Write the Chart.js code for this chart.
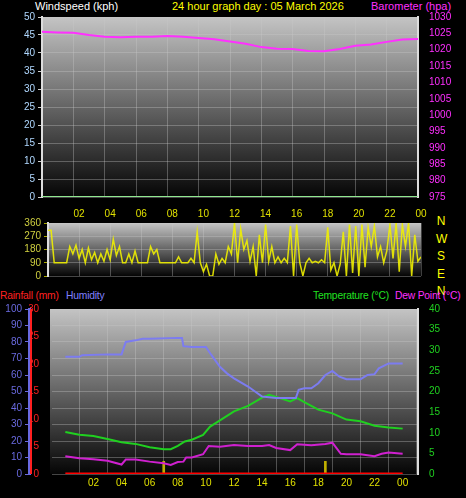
<!DOCTYPE html>
<html><head><meta charset="utf-8">
<script src="https://cdn.jsdelivr.net/npm/chart.js@4"></script>
<style>
body{margin:0;background:#000;width:466px;height:498px;overflow:hidden;position:relative;font-family:"Liberation Sans",Arial,sans-serif}
canvas{position:absolute}
.t{position:absolute;font-size:11px;white-space:nowrap;line-height:12px}
.s{font-size:10.3px;letter-spacing:-0.2px}
</style></head><body>
<div class="t" style="left:35px;top:0px;color:#fff">Windspeed (kph)</div>
<div class="t" style="left:172px;top:0px;color:#ffff00">24 hour graph day : 05 March 2026</div>
<div class="t" style="left:371px;top:0px;color:#ff30ff">Barometer (hpa)</div>
<div class="t" style="left:436px;top:213px;color:#ffff00;font-size:12px;line-height:17.5px;text-align:center;width:10px">N<br>W<br>S<br>E<br>N</div>
<div class="t s" style="left:0px;top:290px;color:#ff2020">Rainfall (mm)</div>
<div class="t s" style="left:66px;top:290px;color:#8080ff">Humidity</div>
<div class="t s" style="left:313px;top:290px;color:#20e020">Temperature (°C)</div>
<div class="t s" style="left:395px;top:290px;color:#ff30ff">Dew Point (°C)</div>
<canvas id="c1" style="left:0;top:8px" width="466" height="200"></canvas>
<canvas id="c2" style="left:0;top:205px" width="466" height="80"></canvas>
<canvas id="c3" style="left:0;top:295px" width="466" height="203"></canvas>
<script>
const baroHours=[0,1,2,3,4,5,6,7,8,9,10,11,12,13,14,15,16,17,18,19,20,21,22,23,24];
const baroValues=[1025.5,1025.3,1025.2,1024.5,1024,1023.8,1024,1024,1024.2,1024,1023.6,1023.2,1022.5,1021.8,1020.8,1020.3,1020.2,1019.6,1019.5,1020.2,1021.2,1021.6,1022.4,1023.1,1023.3];
const windHours=[0,24];
const windValues=[0,0];
const dirStep=0.2;
const dirValues=[310,310,90,90,90,90,90,200,150,210,120,180,90,190,110,160,90,150,100,180,110,250,140,200,90,90,150,90,170,90,90,90,90,200,150,180,90,90,90,90,90,90,130,90,90,90,120,90,300,90,30,80,0,0,150,80,120,90,200,150,360,90,320,180,240,100,200,0,280,90,350,100,200,90,130,90,120,90,340,0,350,90,0,90,120,90,100,90,110,90,330,40,90,0,80,300,0,350,20,340,0,350,60,330,200,340,130,200,90,170,350,120,360,30,350,200,360,0,280,100,130];
const tempHours=[0,1,2,3,4,5,6,7,7.5,8,8.5,9,9.8,10.3,11,12,13,14,14.5,15,16,16.5,17,18,19,20,21,22,23,24];
const tempValues=[10.2,9.5,9.2,8.5,7.7,7.3,6.5,6,6,6.8,7.9,8.3,9.5,11.5,13,15.2,16.5,18.5,19.2,18.7,17.6,18.4,17.4,15.6,14.7,13.2,12.8,11.7,11.3,11];
const dewHours=[0,1,2,3,4,4.3,5,6,7,7.5,8,8.4,8.6,9,9.8,10.2,11,12,13,14,14.5,15,16,16.5,17.5,18.5,19,19.6,20,21,22,22.5,23,24];
const dewValues=[4.3,3.8,3.6,3.2,2.3,3.5,3.5,3,2.6,2.2,2.9,3,4,4,4.8,6.8,6.6,7,6.8,6.8,7,6.3,5.8,7.2,7,7.3,7.6,4.9,4.8,4.8,4.3,4.9,5.2,4.9];
const humHours=[0,1,1.2,3,4,4.3,5,5.5,6,8,8.3,8.4,9,10,10.4,11,11.5,12,13,14,14.5,15,16,16.4,16.6,17,17.5,18,18.5,19,19.5,20,21,21.5,22,22.3,23,24];
const humValues=[71,71,72,72.5,72.5,80,81,82,82,82.5,82.5,77.5,77,77,72,65,61,58,53,47,46.5,46,46,46,51,52,52,55,60,62.5,59,57.5,57.5,60,60.5,64,67,67];
const rainHours=[0,24];
const rainValues=[0,0];
const markHours=[7,18.5];
const markValues=[2.3,2.3];
const hourTicks=[2,4,6,8,10,12,14,16,18,20,22,24];
const dirTicks=[0,90,180,270,360];

const pts=(h,v)=>h.map((x,i)=>({x,y:v[i]}));
const grad={id:'grad',beforeDraw(c){const a=c.chartArea,g=c.ctx.createLinearGradient(0,a.top,0,a.bottom);g.addColorStop(0,'#c4c4c4');g.addColorStop(1,'#050505');c.ctx.save();c.ctx.fillStyle=g;c.ctx.fillRect(a.left,a.top,a.right-a.left,a.bottom-a.top);c.ctx.restore();}};
const redLine={id:'redLine',afterDraw(c){const s=c.scales.yr;if(!s)return;const x=s.left+2;c.ctx.save();c.ctx.strokeStyle='#ff2020';c.ctx.lineWidth=2;c.ctx.beginPath();c.ctx.moveTo(x,s.top);c.ctx.lineTo(x,s.bottom);c.ctx.stroke();c.ctx.restore();}};
const fit=w=>function(s){s.width=w;};
const fitH=h=>function(s){s.height=h;};
const gridC='rgba(200,200,200,0.35)';
const f={size:10,family:'Liberation Sans'};
const plain=v=>String(v);
const xAxis=(display,pos)=>({type:'linear',min:0,max:24,position:pos||'bottom',display,
  afterBuildTicks:s=>{s.ticks=hourTicks.map(v=>({value:v}));},
  ticks:{color:'#e0e000',font:f,autoSkip:false,maxRotation:0,callback:v=>String(v%24).padStart(2,'0')},
  grid:{color:gridC,borderDash:[2,2],drawTicks:false},border:{display:false}});
Chart.defaults.animation=false;
Chart.defaults.plugins.legend.display=false;
Chart.defaults.plugins.tooltip.enabled=false;
Chart.defaults.elements.point.radius=0;
Chart.defaults.responsive=false;

new Chart(c1,{type:'line',plugins:[grad],data:{datasets:[
 {data:pts(baroHours,baroValues),yAxisID:'yb',borderColor:'#ff30ff',borderWidth:2},
 {data:pts(windHours,windValues),yAxisID:'yw',borderColor:'#90e890',borderWidth:2}]},
 options:{layout:{padding:{top:3,bottom:11}},scales:{x:{...xAxis(true),ticks:{display:false},afterFit:fitH(0)},
  yw:{position:'left',min:0,max:50,afterFit:fit(42),ticks:{stepSize:5,color:'#b0d8ff',font:f,callback:plain},grid:{color:gridC,borderDash:[2,2],tickColor:'#ccc',tickLength:4},border:{color:'#ddd',width:2}},
  yb:{position:'right',min:975,max:1030,afterFit:fit(48),ticks:{stepSize:5,color:'#ff30ff',font:f,callback:plain},grid:{display:false,tickColor:'#ff30ff'},border:{color:'#ddd',width:2}}}}});

new Chart(c2,{type:'line',plugins:[grad],data:{datasets:[
 {data:dirValues.map((v,i)=>({x:i*dirStep,y:v})),borderColor:'rgba(240,240,0,0.9)',borderWidth:1.5}]},
 options:{layout:{padding:{bottom:4}},scales:{x:{...xAxis(true,'top'),afterFit:fitH(18)},
  y:{position:'left',min:0,max:360,afterFit:fit(48),afterBuildTicks:s=>{s.ticks=dirTicks.map(v=>({value:v}));},ticks:{color:'#d0d040',font:f,autoSkip:false,callback:plain},grid:{color:gridC,borderDash:[2,2],tickColor:'#aa0',tickLength:4},border:{color:'#ddd',width:2}},
  yr:{position:'right',min:0,max:360,afterFit:fit(45),ticks:{display:false},grid:{display:false}}}}});

new Chart(c3,{type:'line',plugins:[grad,redLine],data:{datasets:[
 {data:pts(humHours,humValues),yAxisID:'yh',borderColor:'#7c7cf0',borderWidth:2},
 {data:pts(tempHours,tempValues),yAxisID:'yt',borderColor:'#20d020',borderWidth:2},
 {data:pts(dewHours,dewValues),yAxisID:'yt',borderColor:'#d020d0',borderWidth:2},
 {data:pts(rainHours,rainValues),yAxisID:'yr',borderColor:'#ff0000',borderWidth:3},
 {type:'bar',data:pts(markHours,markValues),yAxisID:'yr',backgroundColor:'#c0b000',barThickness:2}]},
 options:{layout:{padding:{top:14}},scales:{x:{...xAxis(true),afterFit:fitH(24)},
  yr:{position:'left',weight:0,min:0,max:30,afterFit:fit(21),ticks:{stepSize:5,color:'#ff2020',font:f},grid:{display:false,tickColor:'#ff2020'},border:{display:false}},
  yh:{position:'left',weight:5,min:0,max:100,afterFit:fit(29),ticks:{stepSize:10,color:'#6a6ae0',font:f},grid:{color:gridC,borderDash:[2,2],tickColor:'#6a6ae0',tickLength:4},border:{color:'#6a6ae0',width:3}},
  yt:{position:'right',min:0,max:40,afterFit:fit(48),ticks:{stepSize:5,color:'#20d020',font:f},grid:{display:false,tickColor:'#20d020'},border:{color:'#ddd',width:2}}}}});
</script></body></html>
